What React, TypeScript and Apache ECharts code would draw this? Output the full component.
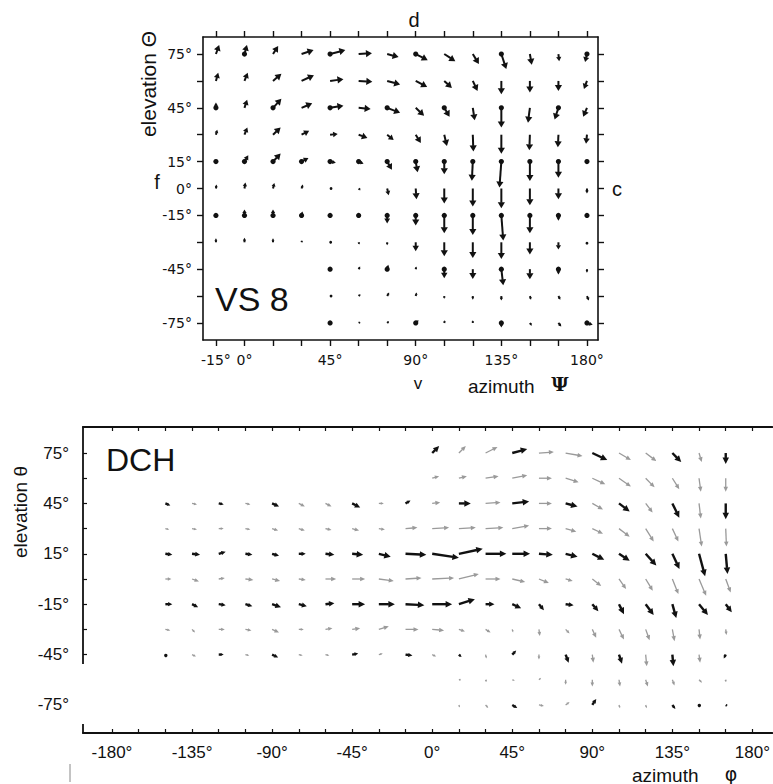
import React, { useEffect, useRef } from "react";
import * as echarts from "echarts";

const _ = null;

// ---- VS 8 : azimuth / elevation flow field (degrees) ----
const vsAzimuth = [-15, 0, 15, 30, 45, 60, 75, 90, 105, 120, 135, 150, 165, 180];
const vsElevation = [75, 60, 45, 30, 15, 0, -15, -30, -45, -60, -75];
const vsU = [
  [1.7, 1.3, 2.7, 6.3, 8, 7, 6, 6.3, 5.8, 3.2, 2.6, 1, 0.4, -1],
  [1.2, 1.7, 4.4, 6.5, 7, 7.2, 6.8, 6, 4, 2.5, 0, 0, 0, -1.6],
  [0, 1.4, 4.4, 5.6, 7, 6.3, 6.8, 4.4, 2.8, 1, 0, -1, -2, -2],
  [0.7, 1.5, 4, 4, 4, 4.6, 3.4, 2.7, 1.4, 0.3, 0, -0.3, -0.3, -0.5],
  [0.8, 2, 4, 3.6, 3, 2.6, 2.5, 1, 0, -0.5, -1, 0, 0, 0],
  [0.3, 0.5, 0.7, 0.7, 1, 1, 0.8, 0.4, 0, 0, 0, 0, 0, 0],
  [0, 0, 0, 0.5, 0, 0, 0, 0, 0, 0, 1, 0, 0, 0],
  [0, 0, 0, 0.3, 0.6, 0.4, 0, 0, 0, 0, 0, 0, 0, 0],
  [_, _, _, _, 0, 0.8, 0.6, 0.3, 0, 0, 1, 0, 0, 0],
  [_, _, _, _, 1, 1, 1, 0.5, 0, 0, 0, 0.6, 1, 1],
  [_, _, _, _, 1, 1, 1, 1.5, 0.3, 0, 0, 1, 1.5, 3],
];
const vsV = [
  [5, 5, 4.5, 2.2, 2.2, 0.5, -1.7, -3.4, -4, -5.6, -8.4, -6, -4, -4.5],
  [4.5, 4.5, 4, 3.2, 1, -0.5, -2, -3.4, -4, -5.6, -7.5, -6.5, -5.6, -4.5],
  [3, 4.5, 5, 2.5, 1.2, -0.6, -2.8, -4.4, -5, -7, -11, -8.3, -6.5, -5],
  [2.8, 4, 4, 2.2, 0.4, -1.8, -3, -4.6, -6.3, -9.3, -10.6, -8.7, -7, -5],
  [0, 3.5, 4.5, 2, -0.6, -1.2, -4.5, -6, -7, -10.7, -14.5, -10.8, -9, -1],
  [2.2, 3.3, 3, 2.2, 0, -1, -3.7, -6, -8.4, -10, -11, -9.3, -6, -2.8],
  [1, 3.3, 3.3, 2.2, 0, 0, -4.5, -5.6, -10, -11, -14, -10, -3, 0],
  [2.2, 2.5, 2.2, 1.1, 0, -1.2, -1.7, -5, -7.8, -8.8, -9.3, -6.8, -4, -1],
  [_, _, _, _, 0, 1.5, 2.5, 1.5, -5, -5.5, -9, -5.6, -3, -2],
  [_, _, _, _, 0, 1, 2, 2, -1.5, -2, -2.5, -2, -2, -2.5],
  [_, _, _, _, 0, 0.5, 1, 1.5, 1.5, 1.5, -2.5, -1.5, -2, -1],
];
// 1 = sample point marked with a dot at the arrow tail
const vsTailDot = [
  "01001001001001",
  "00000000000000",
  "10101010101010",
  "00000000000000",
  "11111111111111",
  "00000000000000",
  "11111111111111",
  "00000000000000",
  "00001010101010",
  "00000000000000",
  "00001001001001",
];
const vsXTicks = [-15, 0, 15, 30, 45, 60, 75, 90, 105, 120, 135, 150, 165, 180];
const vsXLabels = [-15, 0, 45, 90, 135, 180];
const vsYTicks = [-75, -60, -45, -30, -15, 0, 15, 30, 45, 60, 75];
const vsYLabels = [75, 45, 15, 0, -15, -45, -75];

// ---- DCH : azimuth / elevation flow field (degrees) ----
const dchAzimuth = [-150, -135, -120, -105, -90, -75, -60, -45, -30, -15, 0, 15, 30, 45, 60, 75, 90, 105, 120, 135, 150, 165];
const dchElevation = [75, 60, 45, 30, 15, 0, -15, -30, -45, -60, -75];
const dchU = [
  [_, _, _, _, _, _, _, _, _, _, 3.9, 3.9, 6.7, 8.4, 8.4, 9.5, 8.4, 6.7, 6, 5, 1.5, 0],
  [_, _, _, _, _, _, _, _, _, _, 3.9, 4.5, 7.3, 8.4, 7.3, 7.3, 7.3, 6.7, 5, 3.9, 1, 0],
  [2.8, 2.8, 2.8, 2.8, 3.9, 3.4, 3.4, 4.5, 2.8, 2.8, 4.5, 6.7, 8.4, 9.5, 7.3, 6.7, 6, 6, 3.9, 3.9, 1, 0],
  [2.2, 2.8, 2.8, 2.8, 3.4, 3.4, 3.4, 3.9, 3.4, 6.7, 9.5, 9.5, 10, 9.5, 7.3, 6, 6, 6, 4.5, 3.4, 1.5, 0.4],
  [3.9, 4.5, 3.9, 3.9, 3.9, 3.9, 5, 6.2, 6.7, 11.7, 15, 13.4, 11.7, 10, 7.8, 6.7, 6.7, 6, 6, 4, 3.4, 1],
  [3.4, 3.9, 3.4, 4.5, 4.5, 3.9, 6, 7.3, 8.4, 9, 12.3, 11.2, 8.4, 7.3, 5.6, 4, 5, 4, 4, 3.4, 4, 2.8],
  [3.9, 3.4, 3.9, 3.9, 5, 4.5, 5, 7.3, 9, 10.6, 11.2, 9, 5, 5, 2.8, 4.5, 3.4, 2.8, 4.5, 2.2, 5, 3.4],
  [2.8, 1.7, 3.4, 3.4, 3.9, 2.8, 3.9, 4.5, 5.6, 7.3, 6.7, 3.4, 2.8, 0.5, 0.5, 2.2, 2.2, 2.8, 2.2, 1.2, 0.6, 0.4],
  [0.5, 2.2, 2.8, 2.2, 3.4, 2.2, 2.2, 3.4, 2.2, 3.9, 2.2, 1.5, 0.5, 2.2, 0, 1.7, 0.6, 1.7, 0.6, 0.6, 0.6, -1.1],
  [_, _, _, _, _, _, _, _, _, _, _, 1, 0.5, 1.5, 1.2, 0, 0, 0.6, 1.2, 1.2, 1.7, 0],
  [_, _, _, _, _, _, _, _, _, _, _, 0.5, 1.5, 2.8, 2.8, 2.2, 2.2, 0.6, 0.6, 1.7, 0.3, 1],
];
const dchV = [
  [_, _, _, _, _, _, _, _, _, _, 4.2, 4.2, 3.6, 2.4, 0.6, -1.8, -4.2, -4.2, -4.8, -5.4, -5.4, -6.5],
  [_, _, _, _, _, _, _, _, _, _, 1.2, 1.2, 1.2, 1.8, 0, -2.4, -3.6, -5, -5.4, -6.5, -8, -8],
  [-1.2, -0.6, -0.6, -0.6, -1.8, -1.8, -1.8, -2.4, 0, 1.8, 0.6, 0, 0.6, 1.2, 0, -1.8, -3.6, -4.8, -5.4, -8.5, -9, -9.5],
  [-0.5, -0.6, 0, -0.6, -1.2, -1.2, -0.8, -1.2, -0.6, 0.6, 0.6, 0.6, 0.6, 1.8, 0, -1.8, -3, -4.8, -7.7, -7.7, -10.7, -10.7],
  [-0.6, -0.6, 1.2, -0.6, -1.2, 0, -0.6, -0.6, -1.8, -0.6, -2.4, 3, 0, 0, -0.6, -1.8, -3.6, -4.2, -7, -9, -13.3, -12],
  [0, -1.5, 0.6, -0.6, -1.2, -0.6, 0, 0, -1.2, 0.6, 0.6, 3, 0, -1.8, -2.4, -1.2, -4.2, -6, -7, -9, -10, -8],
  [0, -1.8, -0.6, -1.2, -1.8, -1.2, 0.6, 0, 0, -0.6, 0, 3, 0, -2.4, -3.6, -0.6, -4.2, -6, -6.5, -8.3, -6.5, -4.8],
  [-0.6, -1.8, 0, -0.6, -1.8, 0, 0.6, 0.6, 1.8, 0, -0.6, -1.2, -1.8, -1.8, -4, -2.4, -5, -6, -6.5, -7, -6, -3.4],
  [-1, -1.2, 0, -0.6, -1.8, -0.6, -0.6, 0.6, 0.6, -0.6, -1.2, -1.5, -2.4, 2.4, -3, -4.8, -4.8, -5.4, -7, -7, -4.8, -2.4],
  [_, _, _, _, _, _, _, _, _, _, _, 0, -1, -0.5, 1.2, -3, -4, -4, -4, -3.4, -1.8, -1],
  [_, _, _, _, _, _, _, _, _, _, _, -1.5, -1.8, -1.8, -0.6, 1.8, 3.6, -2, -2, -2.4, -0.6, -0.6],
];
// B = measured (black), G = interpolated (grey), . = no sample
const dchInk = [
  "..........BGGBGGBGGBGB",
  "..........GGGGGGGGGGGG",
  "BGBGBGGBGBGBGBGBGBGBGB",
  "GGGGGGGGGGGGGGGGGGGGGG",
  "BBBBBBBBBBBBBBBBBBBBBB",
  "GGGGGGGGGGGGGGGGGGGGGG",
  "BBBBBBBBBBBBBBBBBBBBBB",
  "GGGGGGGGGGGGGGGGGGGGGG",
  "BGBGBGGBGBGBGBGBGBGBGB",
  "...........GGGGGGGGGGG",
  "...........GGBGGBGGBBB",
];
const dchXTicks = [-180, -165, -150, -135, -120, -105, -90, -75, -60, -45, -30, -15, 0, 15, 30, 45, 60, 75, 90, 105, 120, 135, 150, 165, 180];
const dchXLabels = [-180, -135, -90, -45, 0, 45, 90, 135, 180];
const dchYTicks = [-45, -30, -15, 0, 15, 30, 45, 60, 75];
const dchYLabels = [75, 45, 15, -15, -45, -75];

const INK = "#111";
const GREY = "#9a9a9a";

type ArrowStyle = { color: string; width: number; head: number; spread: number; minLen: number; blob: number };

function arrowParts(p0: number[], p1: number[], st: ArrowStyle) {
  const dx = p1[0] - p0[0];
  const dy = p1[1] - p0[1];
  const len = Math.hypot(dx, dy);
  const parts: any[] = [];
  if (len < st.minLen) {
    if (st.blob > 0) {
      parts.push({ type: "circle", shape: { cx: p0[0] + dx / 2, cy: p0[1] + dy / 2, r: st.blob }, style: { fill: st.color } });
    }
    return parts;
  }
  const ux = dx / len;
  const uy = dy / len;
  const hl = Math.min(st.head, len * 0.6);
  const hw = hl * st.spread;
  const bx = p1[0] - ux * hl;
  const by = p1[1] - uy * hl;
  parts.push({
    type: "line",
    shape: { x1: p0[0], y1: p0[1], x2: bx + ux * 0.5, y2: by + uy * 0.5 },
    style: { stroke: st.color, lineWidth: st.width, lineCap: "butt" },
  });
  parts.push({
    type: "polygon",
    shape: { points: [[p1[0], p1[1]], [bx - uy * hw, by + ux * hw], [bx + uy * hw, by - ux * hw]] },
    style: { fill: st.color },
  });
  return parts;
}

function buildField(az: number[], el: number[], U: (number | null)[][], V: (number | null)[][], flag: (r: number, c: number) => number) {
  const rows: number[][] = [];
  el.forEach((e, r) => {
    az.forEach((a, c) => {
      const u = U[r][c];
      const v = V[r][c];
      if (u === null || v === null) return;
      rows.push([a, e, u, v, flag(r, c)]);
    });
  });
  return rows;
}

const vsData = buildField(vsAzimuth, vsElevation, vsU, vsV, (r, c) => (vsTailDot[r][c] === "1" ? 1 : 0));
const dchData = buildField(dchAzimuth, dchElevation, dchU, dchV, (r, c) => (dchInk[r][c] === "B" ? 1 : 0));

const deg = (v: number) => `${v}°`;

export default function App() {
  const ref = useRef<HTMLDivElement>(null);

  useEffect(() => {
    if (!ref.current) return;
    const chart = echarts.init(ref.current, undefined, { renderer: "svg" });

    const topFont = { fontFamily: "DejaVu Sans", fontSize: 14, color: INK };
    const botFont = { fontFamily: "Liberation Sans", fontSize: 17, color: INK };
    const frameLine = (w: number) => ({ show: true, onZero: false, lineStyle: { color: INK, width: w } });

    const option: any = {
      animation: false,
      backgroundColor: "#fff",
      grid: [
        { left: 203, top: 37, width: 395, height: 303 },
        { left: 83, top: 427, width: 690, height: 306 },
      ],
      xAxis: [
        {
          gridIndex: 0, type: "value", position: "bottom", min: -21.8, max: 185.8,
          axisLine: frameLine(1.6),
          axisTick: { show: true, customValues: vsXTicks, length: 6, inside: false, lineStyle: { color: INK, width: 1.4 } },
          axisLabel: { show: true, customValues: vsXLabels, formatter: deg, margin: 13, ...topFont },
          splitLine: { show: false },
        },
        {
          gridIndex: 0, type: "value", position: "top", min: -21.8, max: 185.8,
          axisLine: frameLine(1.6),
          axisTick: { show: true, customValues: vsXTicks, length: 6, inside: false, lineStyle: { color: INK, width: 1.4 } },
          axisLabel: { show: false },
          splitLine: { show: false },
        },
        {
          gridIndex: 1, type: "value", position: "bottom", min: -196.3, max: 191.2,
          axisLine: frameLine(1.8),
          axisTick: { show: true, customValues: dchXTicks, length: 4, inside: true, lineStyle: { color: INK, width: 1.2 } },
          axisLabel: { show: true, customValues: dchXLabels, formatter: deg, margin: 11, ...botFont },
          splitLine: { show: false },
        },
        {
          gridIndex: 1, type: "value", position: "top", min: -196.3, max: 191.2,
          axisLine: frameLine(1.8),
          axisTick: { show: true, customValues: dchXTicks, length: 4, inside: true, lineStyle: { color: INK, width: 1.2 } },
          axisLabel: { show: false },
          splitLine: { show: false },
        },
      ],
      yAxis: [
        {
          gridIndex: 0, type: "value", position: "left", min: -84.5, max: 84.5,
          axisLine: frameLine(1.6),
          axisTick: { show: true, customValues: vsYTicks, length: 6, inside: false, lineStyle: { color: INK, width: 1.4 } },
          axisLabel: { show: true, customValues: vsYLabels, formatter: deg, margin: 11, ...topFont },
          splitLine: { show: false },
        },
        {
          gridIndex: 0, type: "value", position: "right", min: -84.5, max: 84.5,
          axisLine: frameLine(1.6),
          axisTick: { show: true, customValues: vsYTicks, length: 6, inside: false, lineStyle: { color: INK, width: 1.4 } },
          axisLabel: { show: false },
          splitLine: { show: false },
        },
        {
          gridIndex: 1, type: "value", position: "left", min: -91.7, max: 90.5,
          axisLine: frameLine(1.8),
          axisTick: { show: true, customValues: dchYTicks, length: 4, inside: true, lineStyle: { color: INK, width: 1.2 } },
          axisLabel: { show: true, customValues: dchYLabels, formatter: deg, margin: 14, ...botFont },
          splitLine: { show: false },
        },
      ],
      series: [
        {
          type: "custom",
          name: "VS 8",
          xAxisIndex: 0,
          yAxisIndex: 0,
          data: vsData,
          renderItem: (_p: any, api: any) => {
            const x = api.value(0), y = api.value(1), u = api.value(2), v = api.value(3), dot = api.value(4);
            const p0 = api.coord([x, y]);
            const p1 = api.coord([x + u, y + v]);
            const children = arrowParts(p0, p1, {
              color: INK, width: 2, head: 6, spread: 0.6, minLen: 2, blob: dot ? 0 : 1.4,
            });
            if (dot) children.push({ type: "circle", shape: { cx: p0[0], cy: p0[1], r: 2.6 }, style: { fill: INK } });
            return { type: "group", children };
          },
        },
        {
          type: "custom",
          name: "DCH",
          xAxisIndex: 2,
          yAxisIndex: 2,
          data: dchData,
          renderItem: (_p: any, api: any) => {
            const x = api.value(0), y = api.value(1), u = api.value(2), v = api.value(3), measured = api.value(4);
            const p0 = api.coord([x, y]);
            const p1 = api.coord([x + u, y + v]);
            const st: ArrowStyle = measured
              ? { color: INK, width: 2.4, head: 6.5, spread: 0.5, minLen: 2, blob: 1.7 }
              : { color: GREY, width: 1.3, head: 5, spread: 0.45, minLen: 2, blob: 0.9 };
            return { type: "group", children: arrowParts(p0, p1, st) };
          },
        },
      ],
      graphic: [
        // VS 8 panel annotations
        { type: "text", left: 215, top: 282, z: 50, style: { text: "VS 8", font: "34px 'Liberation Sans'", fill: INK } },
        { type: "text", x: 414, y: 20, z: 50, style: { text: "d", font: "20px 'Liberation Sans'", fill: INK, align: "center", verticalAlign: "middle" } },
        { type: "text", x: 157, y: 182, z: 50, style: { text: "f", font: "20px 'Liberation Sans'", fill: INK, align: "center", verticalAlign: "middle" } },
        { type: "text", x: 617, y: 189, z: 50, style: { text: "c", font: "20px 'Liberation Sans'", fill: INK, align: "center", verticalAlign: "middle" } },
        { type: "text", x: 418, y: 383, z: 50, style: { text: "v", font: "17px 'Liberation Sans'", fill: INK, align: "center", verticalAlign: "middle" } },
        { type: "text", x: 468, y: 386, z: 50, style: { text: "azimuth", font: "19px 'Liberation Sans'", fill: INK, align: "left", verticalAlign: "middle" } },
        { type: "text", x: 560, y: 384, z: 50, style: { text: "Ψ", font: "bold 19px 'DejaVu Serif'", fill: INK, align: "center", verticalAlign: "middle" } },
        { type: "text", x: 148, y: 84, rotation: Math.PI / 2, z: 50, style: { text: "elevation Θ", font: "21px 'Liberation Sans'", fill: INK, align: "center", verticalAlign: "middle" } },
        // DCH panel annotations
        { type: "text", left: 106, top: 444, z: 50, style: { text: "DCH", font: "32px 'Liberation Sans'", fill: INK } },
        { type: "text", x: 20, y: 512, rotation: Math.PI / 2, z: 50, style: { text: "elevation θ", font: "19px 'Liberation Sans'", fill: INK, align: "center", verticalAlign: "middle" } },
        { type: "text", x: 632, y: 775, z: 50, style: { text: "azimuth", font: "19px 'Liberation Sans'", fill: INK, align: "left", verticalAlign: "middle" } },
        { type: "text", x: 731, y: 774, z: 50, style: { text: "φ", font: "19px 'DejaVu Sans'", fill: INK, align: "center", verticalAlign: "middle" } },
        // break in the DCH elevation axis line
        { type: "rect", z: 60, shape: { x: 79, y: 664, width: 8, height: 60 }, style: { fill: "#fff" } },
        { type: "line", z: 60, shape: { x1: 70, y1: 764, x2: 70, y2: 782 }, style: { stroke: "#888", lineWidth: 1 } },
      ],
    };

    chart.setOption(option);
    return () => chart.dispose();
  }, []);

  return <div ref={ref} style={{ position: "absolute", left: 0, top: 0, width: 773, height: 784 }} />;
}
